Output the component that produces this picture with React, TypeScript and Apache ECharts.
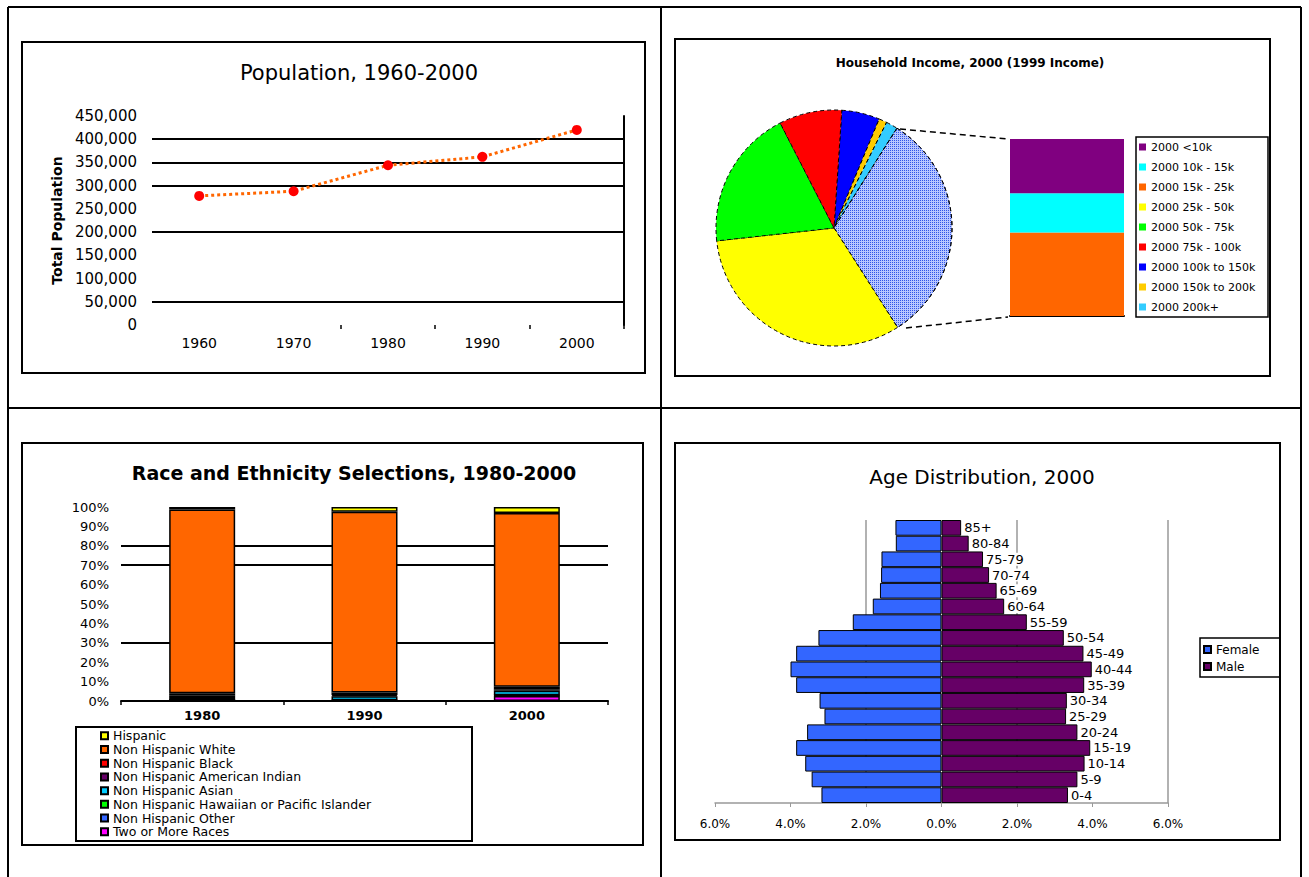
import React, { useEffect, useRef } from 'react';
import * as echarts from 'echarts';

// ---------- Chart 1: Population ----------
const popYears = ['1960', '1970', '1980', '1990', '2000'];
const popValues = [278000, 288000, 344000, 362000, 420000];
const popMax = 450000;
const popStep = 50000;

// ---------- Chart 2: Household income ----------
const incomeLabels = [
  '2000 <10k',
  '2000 10k - 15k',
  '2000 15k - 25k',
  '2000 25k - 50k',
  '2000 50k - 75k',
  '2000 75k - 100k',
  '2000 100k to 150k',
  '2000 150k to 200k',
  '2000 200k+',
];
const incomeValues = [9.8, 7.1, 15.1, 32.3, 19.2, 8.6, 5.2, 1.1, 1.6];
const incomeColors = ['#800080', '#00ffff', '#ff6600', '#ffff00', '#00ff00', '#ff0000', '#0000ff', '#ffcc00', '#33ccff'];
const incomeOtherName = 'Other';

// ---------- Chart 3: Race and ethnicity ----------
const raceYears = ['1980', '1990', '2000'];
const raceNames = [
  'Hispanic',
  'Non Hispanic White',
  'Non Hispanic Black',
  'Non Hispanic American Indian',
  'Non Hispanic Asian',
  'Non Hispanic Hawaiian or Pacific Islander',
  'Non Hispanic Other',
  'Two or More Races',
];
const raceColors = ['#ffff00', '#ff6600', '#ff0000', '#660066', '#00ccff', '#00ff00', '#3366ff', '#ff00ff'];
const hispanic = [1.3, 2.4, 3.1];
const nhWhite = [94.7, 93.2, 89.5];
const nhBlack = [1.3, 1.4, 1.3];
const nhAmInd = [1.2, 0.6, 0.8];
const nhAsian = [1.0, 2.0, 2.3];
const nhHawaiian = [0.0, 0.1, 0.1];
const nhOther = [0.5, 0.3, 0.3];
const twoOrMore = [0.0, 0.0, 2.6];
const raceValues = [hispanic, nhWhite, nhBlack, nhAmInd, nhAsian, nhHawaiian, nhOther, twoOrMore];

// ---------- Chart 4: Age distribution ----------
const ageGroups = ['0-4', '5-9', '10-14', '15-19', '20-24', '25-29', '30-34', '35-39', '40-44', '45-49', '50-54', '55-59', '60-64', '65-69', '70-74', '75-79', '80-84', '85+'];
const femalePct = [3.18, 3.44, 3.61, 3.85, 3.56, 3.10, 3.23, 3.85, 4.00, 3.85, 3.26, 2.35, 1.82, 1.63, 1.60, 1.59, 1.21, 1.22];
const malePct = [3.35, 3.60, 3.79, 3.94, 3.60, 3.30, 3.32, 3.78, 3.98, 3.76, 3.24, 2.26, 1.66, 1.46, 1.26, 1.10, 0.72, 0.52];

const FONT = 'Liberation Sans, Arial, sans-serif';
const DV = 'DejaVu Sans, sans-serif';
const T = 'rgba(0,0,0,0)';

function frame(x: number, y: number, w: number, h: number, lw = 2) {
  return { type: 'rect', silent: true, z: 100, shape: { x, y, width: w, height: h }, style: { fill: 'none', stroke: '#000', lineWidth: lw } };
}
function line(x1: number, y1: number, x2: number, y2: number, lw = 2, dash?: number[]) {
  return { type: 'line', silent: true, z: 100, shape: { x1, y1, x2, y2 }, style: { stroke: '#000', lineWidth: lw, lineDash: dash } };
}
function title(text: string, x: number, y: number, size: number, weight = 'normal', family = DV) {
  return { type: 'text', silent: true, z: 100, x, y, style: { text, fill: '#000', fontSize: size, fontWeight: weight, fontFamily: family, align: 'center', verticalAlign: 'middle' } };
}

export default function App() {
  const ref = useRef<HTMLDivElement>(null);
  useEffect(() => {
    if (!ref.current) return;
    const chart = echarts.init(ref.current, undefined, { renderer: 'svg' });

    const otherSum = incomeValues[0] + incomeValues[1] + incomeValues[2];
    const pieOrder = [6, 7, 8, -1, 3, 4, 5];
    const pieData = pieOrder.map((i) =>
      i < 0
        ? {
            name: incomeOtherName,
            value: otherSum,
            itemStyle: {
              color: '#b8c6ff',
              decal: { symbol: 'rect', symbolSize: 1, color: '#2f55e8', dashArrayX: [1, 1], dashArrayY: [1, 1], rotation: 0 },
            },
          }
        : { name: incomeLabels[i], value: incomeValues[i], itemStyle: { color: incomeColors[i] } }
    );

    const popSplitColors = [T, '#000', T, T, '#000', T, '#000', '#000', '#000', T];
    const raceSplitColors = [T, T, T, '#000', T, T, T, '#000', '#000', T, T];
    const ageSplitColors = [T, T, '#999', T, '#999', T, '#999'];

    const raceSeries = raceNames
      .map((name, i) => ({
        name,
        type: 'bar',
        stack: 'race',
        xAxisIndex: 2,
        yAxisIndex: 3,
        barWidth: 66,
        data: raceValues[i],
        itemStyle: { color: raceColors[i], borderColor: '#000', borderWidth: 1.5 },
      }))
      .reverse();

    const option: any = {
      animation: false,
      backgroundColor: '#fff',
      textStyle: { fontFamily: FONT, color: '#000' },
      grid: [
        { left: 152, top: 116, width: 472, height: 209 },
        { left: 1010, top: 139, width: 114, height: 177 },
        { left: 121, top: 507, width: 487, height: 194 },
        { left: 715, top: 520, width: 453, height: 283 },
      ],
      xAxis: [
        {
          gridIndex: 0,
          type: 'category',
          data: popYears,
          axisLine: { show: false },
          axisTick: { show: true, length: 4, interval: (i: number) => i >= 2, lineStyle: { color: '#000', width: 1.5 } },
          axisLabel: { fontSize: 14, margin: 11, color: '#000', fontFamily: DV },
        },
        {
          gridIndex: 1,
          type: 'category',
          data: [incomeOtherName],
          axisLine: { show: true, lineStyle: { color: '#000', width: 2 } },
          axisTick: { show: false },
          axisLabel: { show: false },
        },
        {
          gridIndex: 2,
          type: 'category',
          data: raceYears,
          axisLine: { show: true, lineStyle: { color: '#000', width: 2 } },
          axisTick: { show: true, length: 4, lineStyle: { color: '#000', width: 1.5 } },
          axisLabel: { fontSize: 13, fontWeight: 'bold', margin: 8, color: '#000', fontFamily: DV },
        },
        {
          gridIndex: 3,
          type: 'value',
          min: -6,
          max: 6,
          interval: 2,
          axisLine: { show: true, lineStyle: { color: '#999', width: 1.5 } },
          axisTick: { show: true, length: 4, lineStyle: { color: '#999' } },
          axisLabel: { fontSize: 12, margin: 15, color: '#000', fontFamily: DV, formatter: (v: number) => Math.abs(v).toFixed(1) + '%' },
          splitLine: { show: true, lineStyle: { color: ageSplitColors, width: 1.5 } },
        },
      ],
      yAxis: [
        {
          gridIndex: 0,
          type: 'value',
          min: 0,
          max: popMax,
          interval: popStep,
          name: 'Total Population',
          nameLocation: 'middle',
          nameGap: 88,
          nameTextStyle: { fontSize: 14, fontWeight: 'bold', color: '#000', fontFamily: DV },
          axisLine: { show: false },
          axisTick: { show: false },
          axisLabel: { fontSize: 15, margin: 15, color: '#000', fontFamily: DV, formatter: (v: number) => v.toLocaleString('en-US') },
          splitLine: { show: true, lineStyle: { color: popSplitColors, width: 2 } },
        },
        {
          gridIndex: 0,
          type: 'value',
          position: 'right',
          min: 0,
          max: popMax,
          interval: popStep,
          axisLine: { show: true, lineStyle: { color: '#000', width: 2 } },
          axisTick: { show: false },
          axisLabel: { show: false },
          splitLine: { show: false },
        },
        {
          gridIndex: 1,
          type: 'value',
          min: 0,
          max: otherSum,
          show: false,
        },
        {
          gridIndex: 2,
          type: 'value',
          min: 0,
          max: 100,
          interval: 10,
          axisLine: { show: false },
          axisTick: { show: false },
          axisLabel: { fontSize: 13, margin: 12, color: '#000', fontFamily: DV, formatter: '{value}%' },
          splitLine: { show: true, lineStyle: { color: raceSplitColors, width: 2 } },
        },
        {
          gridIndex: 3,
          type: 'category',
          data: ageGroups,
          show: false,
        },
      ],
      legend: [
        {
          data: incomeLabels,
          orient: 'vertical',
          left: 1139,
          top: 141,
          padding: 0,
          itemWidth: 7,
          itemHeight: 7,
          itemGap: 8,
          icon: 'rect',
          selectedMode: false,
          itemStyle: { borderWidth: 0 },
          textStyle: { fontSize: 11, lineHeight: 12, color: '#000', fontFamily: DV },
        },
        {
          data: raceNames,
          orient: 'vertical',
          left: 100,
          top: 729,
          padding: 0,
          itemWidth: 7,
          itemHeight: 7,
          itemGap: 0,
          icon: 'rect',
          selectedMode: false,
          textStyle: { fontSize: 12.5, lineHeight: 13.7, color: '#000', fontFamily: DV },
        },
        {
          data: ['Female', 'Male'],
          orient: 'vertical',
          left: 1203,
          top: 643,
          padding: 0,
          itemWidth: 7,
          itemHeight: 7,
          itemGap: 4,
          icon: 'rect',
          selectedMode: false,
          textStyle: { fontSize: 12, lineHeight: 13, color: '#000', fontFamily: DV },
        },
      ],
      series: [
        {
          name: 'Population',
          type: 'line',
          xAxisIndex: 0,
          yAxisIndex: 0,
          data: popValues,
          symbol: 'circle',
          symbolSize: 10,
          itemStyle: { color: '#ff0000' },
          lineStyle: { color: '#ff6600', width: 3, type: [3, 3] },
        },
        {
          name: 'Household Income',
          type: 'pie',
          center: [834, 228],
          radius: 118,
          startAngle: 86.2,
          clockwise: true,
          label: { show: false },
          labelLine: { show: false },
          emphasis: { disabled: true },
          itemStyle: { borderColor: '#000', borderWidth: 1, borderType: [4, 3] },
          data: pieData,
        },
        ...[2, 1, 0].map((i) => ({
          name: incomeLabels[i],
          type: 'bar',
          stack: 'other',
          xAxisIndex: 1,
          yAxisIndex: 2,
          barWidth: '100%',
          data: [incomeValues[i]],
          itemStyle: { color: incomeColors[i] },
        })),
        ...raceSeries,
        {
          name: 'Female',
          type: 'bar',
          stack: 'age',
          xAxisIndex: 3,
          yAxisIndex: 4,
          barCategoryGap: '0%',
          data: femalePct.map((v) => -v),
          itemStyle: { color: '#3366ff', borderColor: '#000', borderWidth: 1 },
        },
        {
          name: 'Male',
          type: 'bar',
          stack: 'age',
          xAxisIndex: 3,
          yAxisIndex: 4,
          barCategoryGap: '0%',
          data: malePct,
          itemStyle: { color: '#660066', borderColor: '#000', borderWidth: 1 },
          label: {
            show: true,
            position: 'right',
            distance: 2,
            formatter: (p: any) => p.name,
            fontSize: 13,
            fontFamily: DV,
            color: '#000',
            backgroundColor: '#fff',
            padding: [0, 1],
          },
        },
      ],
      graphic: [
        // table lines
        line(8, 7, 1301, 7),
        line(8, 408, 1301, 408),
        line(8, 7, 8, 877),
        line(661, 7, 661, 877),
        line(1301, 7, 1301, 877),
        // chart frames
        frame(22, 42, 623, 331),
        frame(675, 39, 595, 337),
        frame(22, 443, 621, 402),
        frame(675, 443, 605, 397),
        // legend boxes
        frame(1136, 137, 132, 180, 1.5),
        frame(76, 727, 396, 114, 2),
        frame(1200, 638, 80, 39, 1.5),
        // bar-of-pie connectors
        line(900, 129, 1008, 139, 1.5, [6, 4]),
        line(906, 328, 1008, 317, 1.5, [6, 4]),
        // titles
        title('Population, 1960-2000', 359, 73, 21),
        title('Household Income, 2000 (1999 Income)', 970, 63, 12, 'bold'),
        title('Race and Ethnicity Selections, 1980-2000', 354, 473, 19, 'bold'),
        title('Age Distribution, 2000', 982, 477, 20),
      ],
    };
    chart.setOption(option);
    return () => chart.dispose();
  }, []);
  return <div ref={ref} style={{ position: 'absolute', left: 0, top: 0, width: 1309, height: 877, background: '#fff' }} />;
}
